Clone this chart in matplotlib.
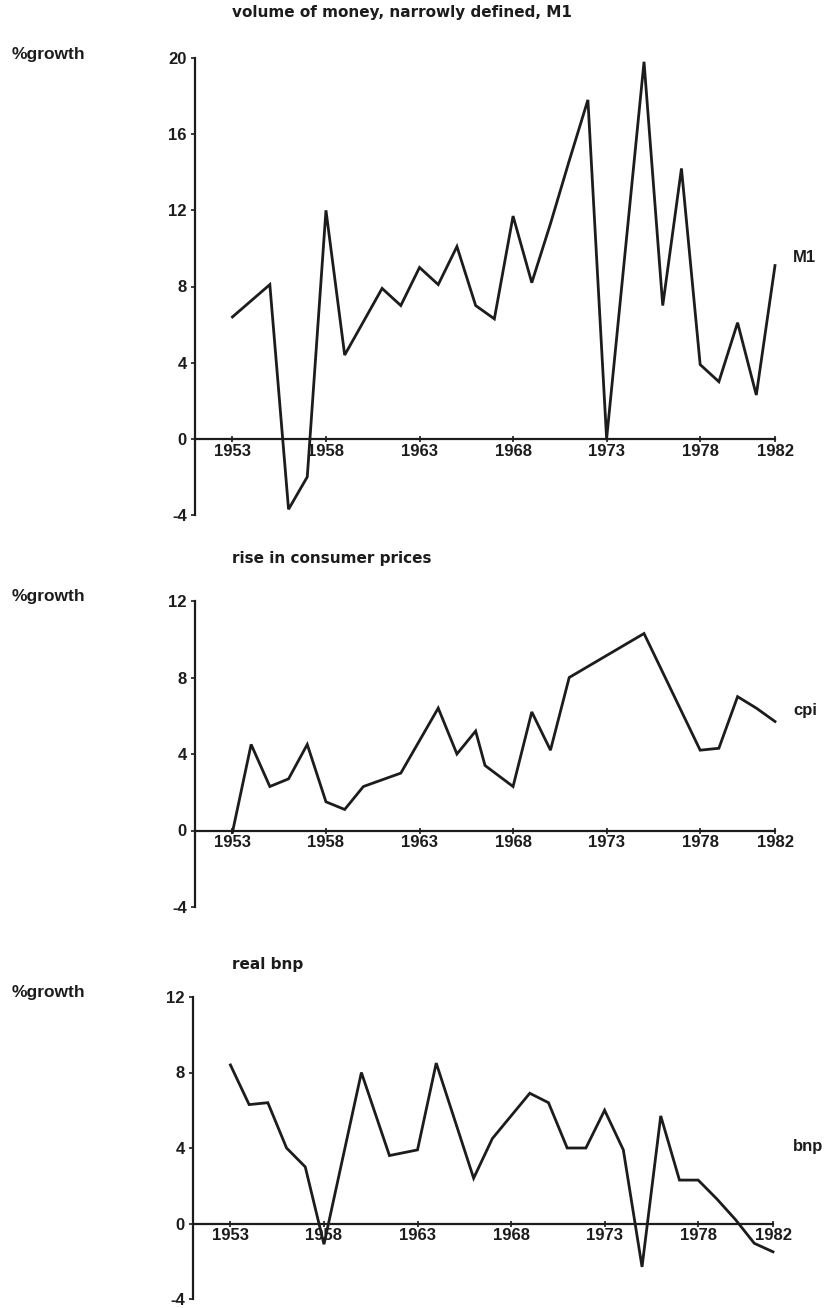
import matplotlib
matplotlib.use("Agg")
import matplotlib.pyplot as plt

plt.rcParams['font.family'] = ['Liberation Sans', 'DejaVu Sans']
plt.rcParams['font.weight'] = 'bold'

# ---- data ----
years_m1 = [1953, 1955, 1956, 1957, 1958, 1959, 1961, 1962, 1963, 1964, 1965,
            1966, 1967, 1968, 1969, 1970, 1971, 1972, 1973, 1975, 1976, 1977,
            1978, 1979, 1980, 1981, 1982]
m1 = [6.4, 8.1, -3.7, -2.0, 12.0, 4.4, 7.9, 7.0, 9.0, 8.1, 10.1,
      7.0, 6.3, 11.7, 8.2, 11.3, 14.6, 17.8, 0.0, 19.8, 7.0, 14.2,
      3.9, 3.0, 6.1, 2.3, 9.1]

years_cpi = [1953, 1954, 1955, 1956, 1957, 1958, 1959, 1960, 1962, 1964, 1965,
             1966, 1966.5, 1968, 1969, 1970, 1971, 1975, 1978, 1979, 1980,
             1981, 1982]
cpi = [-0.1, 4.5, 2.3, 2.7, 4.5, 1.5, 1.1, 2.3, 3.0, 6.4, 4.0,
       5.2, 3.4, 2.3, 6.2, 4.2, 8.0, 10.3, 4.2, 4.3, 7.0,
       6.4, 5.7]

years_bnp = [1953, 1954, 1955, 1956, 1957, 1958, 1960, 1961.5, 1963, 1964, 1966,
             1967, 1969, 1970, 1971, 1972, 1973, 1974, 1975, 1976, 1977, 1978,
             1979, 1980, 1981, 1982]
bnp = [8.4, 6.3, 6.4, 4.0, 3.0, -1.1, 8.0, 3.6, 3.9, 8.5, 2.4,
       4.5, 6.9, 6.4, 4.0, 4.0, 6.0, 3.9, -2.3, 5.7, 2.3, 2.3,
       1.3, 0.2, -1.05, -1.5]

xticks = [1953, 1958, 1963, 1968, 1973, 1978, 1982]
yticks_m1 = [-4, 0, 4, 8, 12, 16, 20]
yticks_other = [-4, 0, 4, 8, 12]

titles = ["volume of money, narrowly defined, M1",
          "rise in consumer prices",
          "real bnp"]
series_labels = ["M1", "cpi", "bnp"]
ylabel = "%growth"

W, H = 828, 1308
fig = plt.figure(figsize=(W / 100, H / 100), dpi=100)

INK = '#1c1c1c'

def px_axes(left, top, right, bottom):
    return fig.add_axes([left / W, 1 - bottom / H, (right - left) / W, (bottom - top) / H])

panels = [
    dict(rect=(195, 58, 775, 515), years=years_m1, vals=m1, yticks=yticks_m1,
         ylim=(-4, 20), title_y=12, growth_y=55, lab_y=258),
    dict(rect=(195, 601, 775, 907), years=years_cpi, vals=cpi, yticks=yticks_other,
         ylim=(-4, 12), title_y=558, growth_y=597, lab_y=711),
    dict(rect=(193, 997, 773, 1299), years=years_bnp, vals=bnp, yticks=yticks_other,
         ylim=(-4, 12), title_y=965, growth_y=993, lab_y=1147),
]

for p, title, slab in zip(panels, titles, series_labels):
    l, t, r, b = p['rect']
    ax = px_axes(l, t, r, b)
    ax.plot(p['years'], p['vals'], color=INK, lw=2.0, solid_joinstyle='miter',
            clip_on=False)
    ax.set_xlim(1951, 1982)
    ax.set_ylim(*p['ylim'])
    ax.spines['top'].set_visible(False)
    ax.spines['right'].set_visible(False)
    ax.spines['bottom'].set_position(('data', 0))
    for s in ('left', 'bottom'):
        ax.spines[s].set_linewidth(1.6)
        ax.spines[s].set_color(INK)
    ax.set_xticks(xticks)
    ax.set_xticklabels([str(x) for x in xticks])
    ax.set_yticks(p['yticks'])
    ax.set_yticklabels([str(y) for y in p['yticks']])
    ax.tick_params(axis='x', direction='inout', length=5, width=1.2, pad=1,
                   labelsize=12, colors=INK)
    ax.tick_params(axis='y', direction='out', length=3, width=1.2, pad=3,
                   labelsize=12, colors=INK)
    for lab in ax.get_xticklabels() + ax.get_yticklabels():
        lab.set_fontweight('bold')
    ax.patch.set_alpha(0)

    fig.text(232 / W, 1 - p['title_y'] / H, title, ha='left', va='center',
             fontsize=11, fontweight='bold', color=INK,
             family=['DejaVu Sans'])
    fig.text(12 / W, 1 - p['growth_y'] / H, ylabel, ha='left', va='center',
             fontsize=12.5, fontweight='bold', color=INK)
    fig.text(793 / W, 1 - p['lab_y'] / H, slab, ha='left', va='center',
             fontsize=12, fontweight='bold', color=INK)

fig.savefig("out.png", dpi=100)
